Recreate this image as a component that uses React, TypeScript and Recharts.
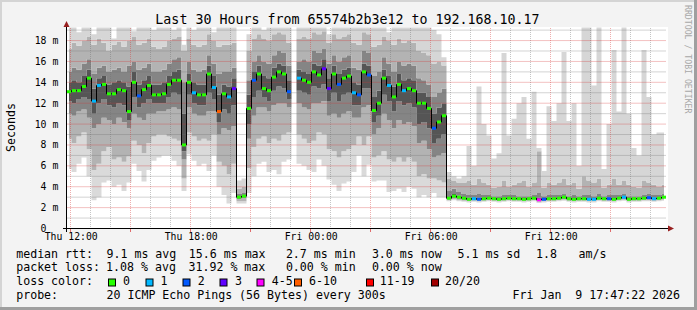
import React from 'react';
import { ComposedChart, Area, Line, XAxis, YAxis, ReferenceLine } from 'recharts';

// ---------- axis / layout constants ----------
const START_HOUR = 11.8; // Thu 11:48 (hours since Thu 00:00)
const SPAN_HOURS = 30;
const STEP_HOURS = 0.25;
const Y_MAX = 19.25;
const PLOT_W = 600;
const SAMPLE_PX = (PLOT_W / SPAN_HOURS) * STEP_HOURS;

const xTickHours = [12, 18, 24, 30, 36];
const xTickLabels = ['Thu 12:00', 'Thu 18:00', 'Fri 00:00', 'Fri 06:00', 'Fri 12:00'];
const yTicks = [0, 2, 4, 6, 8, 10, 12, 14, 16, 18];

// ---------- data (ms), one sample per 15 minutes ----------
const medianMs = [
  13.1, 13.2, 13.2, 13.6, 14.4, 12.2, 13.7, 13.8, 12.9, 12.9,
  13.3, 13.2, 11.2, 14.0, 12.7, 13.3, 13.7, 12.8, 12.8, 12.9,
  13.8, 14.2, 14.2, 8.0, 14.0, 13.0, 12.8, 12.8, 14.8, 13.5,
  11.2, 12.9, 12.6, 13.4, 3.0, 3.1, 11.5, 14.2, 14.8, 13.4,
  13.2, 14.5, 15.0, 14.8, 13.1, null, 14.4, 14.2, 14.0, 15.0,
  14.7, 15.3, 13.4, 14.8, 13.8, 14.4, 14.6, 13.0, 12.8, 15.0,
  14.7, 11.3, 12.0, 14.4, 13.7, 12.6, 13.8, 13.2, 13.4, 13.2,
  12.0, 12.0, 11.5, 9.6, 10.2, 10.8, 2.9, 3.1, 3.0, 2.9,
  2.8, 2.85, 2.8, 2.85, 2.9, 2.85, 2.8, 2.85, 2.9, 2.85,
  2.85, 2.8, 2.85, 2.9, 2.75, 2.8, 2.85, 2.85, 2.9, 3.0,
  2.85, 2.8, 2.85, 2.85, 2.8, 2.8, 2.9, 2.85, 2.85, 2.8,
  2.9, 3.0, 2.8, 2.85, 2.85, 2.9, 2.95, 2.85, 2.9, 3.0,
];

const lossCount = [
  0, 0, 0, 0, 0, 1, 1, 0, 0, 0,
  0, 0, 0, 0, 2, 0, 0, 0, 0, 0,
  0, 0, 0, 0, 0, 1, 0, 0, 0, 1,
  7, 0, 1, 3, 0, 0, 0, 2, 0, 0,
  0, 0, 0, 0, 2, 0, 1, 0, 0, 0,
  0, 3, 3, 0, 2, 0, 0, 1, 2, 0,
  2, 0, 0, 0, 1, 0, 0, 1, 0, 0,
  0, 0, 0, 2, 0, 0, 0, 0, 0, 0,
  0, 1, 2, 0, 0, 0, 0, 0, 0, 0,
  0, 0, 0, 0, 4, 2, 0, 0, 0, 0,
  0, 0, 0, 0, 1, 1, 0, 0, 2, 0,
  0, 1, 0, 0, 0, 0, 2, 1, 0, 0,
];

const smokeMin = [
  5.7, 5.4, 6.2, 6.8, 5.0, 2.7, 3.0, 4.4, 4.6, 4.0,
  4.2, 3.6, 4.4, 6.2, 5.5, 4.5, 5.6, 6.5, 6.8, 7.0,
  7.0, 6.5, 6.0, 3.6, 7.1, 6.5, 6.0, 6.2, 5.5, 7.0,
  4.0, 3.2, 2.4, 3.4, 2.4, 2.4, 3.4, 5.0, 6.2, 6.4,
  5.4, 5.6, 5.2, 6.4, 6.6, null, 6.2, 6.0, 5.6, 5.4,
  6.6, 6.0, 4.7, 4.2, 3.6, 4.3, 4.5, 5.4, 7.0, 5.0,
  6.1, 4.5, 4.6, 4.6, 3.5, 3.6, 3.8, 3.5, 4.0, 3.8,
  3.0, 3.2, 3.0, 3.4, 3.0, 3.0, 2.6, 2.7, 2.6, 2.55,
  2.5, 2.55, 2.5, 2.55, 2.6, 2.55, 2.5, 2.55, 2.6, 2.55,
  2.55, 2.5, 2.55, 2.6, 2.45, 2.5, 2.55, 2.55, 2.6, 2.65,
  2.55, 2.5, 2.55, 2.55, 2.5, 2.5, 2.6, 2.55, 2.55, 2.5,
  2.6, 2.65, 2.5, 2.55, 2.55, 2.6, 2.6, 2.55, 2.6, 2.65,
];

const smokeP10 = [
  8.6, 8.2, 8.8, 9.2, 7.6, 5.6, 6.2, 7.4, 7.8, 6.6,
  6.8, 6.4, 6.9, 8.4, 8.0, 7.2, 8.2, 8.8, 9.0, 9.0,
  8.8, 8.6, 8.4, 4.8, 9.2, 8.8, 8.4, 8.6, 8.4, 9.0,
  6.4, 6.0, 5.2, 6.2, 2.6, 2.6, 5.8, 7.8, 8.6, 8.8,
  8.2, 8.6, 8.4, 9.0, 9.2, null, 9.0, 8.6, 8.2, 8.4,
  9.2, 9.0, 7.6, 7.4, 6.8, 7.4, 7.6, 8.0, 8.8, 8.0,
  8.8, 6.8, 7.0, 7.4, 6.6, 6.4, 6.8, 6.4, 6.8, 6.4,
  5.0, 5.2, 4.8, 4.8, 4.6, 4.4, 2.7, 2.8, 2.7, 2.65,
  2.6, 2.65, 2.6, 2.65, 2.7, 2.65, 2.6, 2.65, 2.7, 2.65,
  2.65, 2.6, 2.65, 2.7, 2.55, 2.6, 2.65, 2.65, 2.7, 2.75,
  2.65, 2.6, 2.65, 2.65, 2.6, 2.6, 2.7, 2.65, 2.65, 2.6,
  2.7, 2.75, 2.6, 2.65, 2.65, 2.7, 2.7, 2.65, 2.7, 2.75,
];

const smokeP25 = [
  11.0, 10.8, 11.2, 11.4, 10.6, 9.6, 10.0, 10.6, 10.4, 10.0,
  10.6, 10.2, 9.6, 11.0, 10.6, 10.4, 11.0, 11.0, 11.2, 11.2,
  11.4, 11.6, 11.4, 6.6, 11.6, 11.0, 10.8, 10.8, 11.2, 11.2,
  9.0, 9.6, 9.4, 9.8, 2.8, 2.9, 8.6, 10.8, 11.6, 11.6,
  11.2, 11.8, 12.0, 12.0, 11.6, null, 12.0, 11.6, 11.4, 12.0,
  12.0, 12.2, 10.8, 11.0, 10.6, 11.0, 11.2, 10.6, 10.6, 11.6,
  11.8, 9.0, 9.6, 11.0, 10.4, 9.6, 10.4, 10.0, 10.2, 9.8,
  8.2, 8.4, 7.6, 6.8, 7.0, 7.2, 2.8, 2.95, 2.85, 2.75,
  2.7, 2.75, 2.7, 2.75, 2.8, 2.75, 2.7, 2.75, 2.8, 2.75,
  2.75, 2.7, 2.75, 2.8, 2.65, 2.7, 2.75, 2.75, 2.8, 2.85,
  2.75, 2.7, 2.75, 2.75, 2.7, 2.7, 2.8, 2.75, 2.75, 2.7,
  2.8, 2.85, 2.7, 2.75, 2.75, 2.8, 2.85, 2.75, 2.8, 2.85,
];

const smokeP40 = [
  12.2, 12.0, 12.4, 12.6, 12.4, 11.0, 12.0, 12.4, 11.8, 11.6,
  12.0, 11.8, 10.4, 12.6, 11.6, 12.0, 12.4, 12.0, 12.0, 12.0,
  12.6, 13.0, 12.8, 7.4, 12.8, 12.0, 11.8, 11.8, 13.0, 12.4,
  10.2, 11.4, 11.0, 11.8, 2.9, 3.0, 10.0, 12.6, 13.2, 12.6,
  12.2, 13.2, 13.6, 13.4, 12.4, null, 13.2, 13.0, 12.8, 13.6,
  13.4, 13.8, 12.2, 13.0, 12.2, 12.8, 13.0, 11.8, 11.8, 13.4,
  13.4, 10.2, 10.8, 12.8, 12.2, 11.2, 12.2, 11.8, 12.0, 11.6,
  10.0, 10.2, 9.6, 8.2, 8.6, 9.0, 2.85, 3.0, 2.95, 2.85,
  2.75, 2.8, 2.75, 2.8, 2.85, 2.8, 2.75, 2.8, 2.85, 2.8,
  2.8, 2.75, 2.8, 2.85, 2.7, 2.75, 2.8, 2.8, 2.85, 2.95,
  2.8, 2.75, 2.8, 2.8, 2.75, 2.75, 2.85, 2.8, 2.8, 2.75,
  2.85, 2.95, 2.75, 2.8, 2.8, 2.85, 2.9, 2.8, 2.85, 2.95,
];

const smokeP60 = [
  14.0, 14.2, 14.0, 14.6, 15.2, 13.4, 14.4, 14.6, 13.8, 14.0,
  14.2, 14.0, 13.6, 15.0, 13.8, 14.2, 14.6, 13.8, 13.8, 14.0,
  14.6, 15.0, 15.2, 11.0, 14.8, 14.0, 13.8, 13.8, 15.6, 14.6,
  12.8, 13.8, 13.6, 14.4, 3.1, 3.2, 12.8, 15.0, 15.6, 14.6,
  14.4, 15.4, 15.8, 15.6, 14.2, null, 15.2, 15.0, 14.8, 15.8,
  15.6, 16.2, 14.4, 15.6, 14.8, 15.2, 15.4, 14.0, 13.8, 15.8,
  15.6, 12.6, 13.2, 15.2, 14.6, 13.6, 14.8, 14.2, 14.4, 14.2,
  13.0, 13.0, 12.6, 11.0, 11.6, 12.0, 3.0, 3.3, 3.15, 3.0,
  2.95, 2.95, 2.95, 2.95, 3.0, 2.95, 2.9, 2.95, 3.0, 2.95,
  2.95, 2.9, 2.95, 3.0, 2.95, 2.9, 2.95, 2.95, 3.0, 3.1,
  2.95, 2.9, 2.95, 2.95, 2.9, 2.9, 3.0, 2.95, 2.95, 2.9,
  3.0, 3.1, 2.9, 2.95, 2.95, 3.0, 3.05, 2.95, 3.0, 3.1,
];

const smokeP75 = [
  15.0, 15.4, 15.2, 15.8, 16.2, 14.8, 15.4, 15.6, 15.0, 15.2,
  15.4, 15.0, 15.6, 16.0, 15.2, 15.4, 15.8, 15.0, 15.0, 15.2,
  15.8, 16.2, 16.4, 14.0, 16.0, 15.2, 15.0, 15.2, 16.6, 15.8,
  14.8, 15.0, 15.0, 15.4, 3.3, 3.4, 14.2, 16.0, 16.6, 16.0,
  15.8, 16.6, 17.0, 16.8, 15.6, null, 16.0, 16.2, 16.0, 17.0,
  16.8, 17.2, 15.8, 16.6, 16.0, 16.4, 16.6, 15.4, 15.2, 17.0,
  16.8, 14.6, 15.0, 16.4, 15.8, 15.0, 16.0, 15.6, 15.8, 15.6,
  14.4, 14.2, 13.8, 12.6, 13.0, 13.4, 3.6, 3.8, 3.5, 3.3,
  3.2, 3.2, 3.3, 3.2, 3.2, 3.1, 3.1, 3.2, 3.2, 3.2,
  3.1, 3.1, 3.1, 3.2, 3.4, 3.1, 3.2, 3.2, 3.2, 3.3,
  3.1, 3.2, 3.1, 3.2, 3.2, 3.1, 3.3, 3.1, 3.2, 3.2,
  3.2, 3.3, 3.1, 3.1, 3.1, 3.2, 3.3, 3.2, 3.2, 3.3,
];

const smokeP90 = [
  17.2, 17.8, 17.5, 18.0, 18.4, 17.6, 18.2, 17.8, 17.0, 17.6,
  17.9, 17.4, 18.0, 18.4, 17.6, 17.8, 18.2, 17.4, 17.2, 17.4,
  18.0, 18.2, 18.4, 17.0, 18.2, 17.6, 17.4, 17.6, 18.6, 18.0,
  17.4, 17.6, 17.6, 17.8, 3.8, 4.0, 17.0, 18.2, 18.6, 18.2,
  18.0, 18.6, 18.8, 18.6, 17.8, null, 18.2, 18.4, 18.2, 18.8,
  18.6, 18.9, 17.8, 18.6, 18.2, 18.4, 18.6, 17.8, 17.6, 18.8,
  18.6, 17.4, 17.6, 18.4, 18.0, 17.6, 18.2, 17.8, 18.0, 17.8,
  17.0, 16.8, 16.6, 15.8, 16.0, 15.6, 4.8, 4.6, 4.4, 4.4,
  4.6, 4.2, 4.8, 4.4, 4.2, 3.9, 4.0, 4.6, 4.0, 4.2,
  4.4, 4.6, 4.0, 4.4, 7.4, 3.9, 4.4, 4.2, 4.4, 4.8,
  4.2, 4.4, 3.8, 5.0, 4.6, 4.4, 4.8, 3.9, 4.2, 4.8,
  4.2, 4.6, 4.2, 4.0, 3.9, 4.6, 4.4, 4.2, 4.0, 4.2,
];

const smokeMax = [
  21, 21, 18.8, 21, 21, 18.6, 21, 21, 21, 18.2,
  21, 21, 21, 18.9, 21, 21, 21, 19.0, 21, 21,
  21, 19.0, 21, 17.6, 21, 19.0, 21, 21, 21, 18.8,
  21, 21, 21, 21, 4.6, 4.8, 18.6, 21, 21, 19.0,
  21, 21, 21, 21, 21, null, 21, 21, 21, 21,
  21, 21, 18.6, 21, 21, 21, 21, 21, 21, 21,
  21, 21, 21, 21, 18.8, 21, 21, 21, 21, 21,
  21, 21, 20, 19, 18.6, 16.4, 5.4, 5.0, 4.8, 5.0,
  7.9, 6.0, 13.6, 10.0, 8.9, 6.7, 7.2, 16.8, 8.9, 10.5,
  12.0, 12.6, 8.6, 13.1, 7.7, 5.5, 11.7, 10.3, 12.0, 16.9,
  10.3, 12.0, 6.0, 21, 21, 13.7, 21, 5.7, 10.0, 17.1,
  11.2, 21, 11.0, 7.7, 7.0, 17.1, 12.6, 9.0, 9.2, 9.2,
];

// ---------- legend ----------
const lossLevels = [0, 1, 2, 3, 4, 6, 11, 20];
const lossLabels = ['0', '1', '2', '3', '4-5', '6-10', '11-19', '20/20'];
const lossColors = ['#26ff00', '#00b8ff', '#0059ff', '#5e00ff', '#ff00ff', '#ff5e00', '#ff0000', '#a10000'];
const lossBoxX = [108, 145.5, 182.5, 219.5, 256.5, 294, 366, 431];
const lossLabelX = [123, 160.5, 197.8, 235, 271.8, 309, 379.7, 445];

const rttStats: [string, number][] = [
  ['median rtt:', 16.2], ['9.1 ms avg', 106.5], ['15.6 ms max', 188.8], ['2.7 ms min', 285.9],
  ['3.0 ms now', 371.9], ['5.1 ms sd', 457.5], ['1.8', 536.1], ['am/s', 578.6],
];
const lossStats: [string, number][] = [
  ['packet loss:', 16.2], ['1.08 % avg', 106.1], ['31.92 % max', 188.5], ['0.00 % min', 285.9], ['0.00 % now', 371.9],
];
const probeRow: [string, number][] = [
  ['probe:', 16.2], ['20 ICMP Echo Pings (56 Bytes) every 300s', 106.5], ['Fri Jan  9 17:47:22 2026', 512.5],
];

const TITLE = 'Last 30 Hours from 65574b2b3e12 to 192.168.10.17';

function lossColor(n: number) {
  let idx = 0;
  lossLevels.forEach((lv, i) => { if (n >= lv) idx = i; });
  return lossColors[idx];
}

const levels = [smokeMin, smokeP10, smokeP25, smokeP40, smokeP60, smokeP75, smokeP90, smokeMax];
const bandKeys = ['b1', 'b2', 'b3', 'b4', 'b5', 'b6', 'b7'];
const bandColors = ['#dadada', '#b3b3b3', '#858585', '#555555', '#858585', '#b3b3b3', '#d6d6d6'];

const data = medianMs.map((m, i) => {
  const gap = smokeMin[i] == null;
  const row: Record<string, number | null> = {
    t: START_HOUR + STEP_HOURS * (i + 0.5),
    base: gap ? 0 : (smokeMin[i] as number),
    median: m,
    loss: lossCount[i],
  };
  bandKeys.forEach((k, j) => {
    row[k] = gap ? 0 : (levels[j + 1][i] as number) - (levels[j][i] as number);
  });
  return row;
});

const minorHours: number[] = [];
const majorHours: number[] = [];
for (let h = 12; h <= 41; h++) (h % 3 === 0 ? majorHours : minorHours).push(h);
const minorMs: number[] = [];
const majorMs: number[] = [];
for (let v = 1; v <= 19; v++) (v % 2 === 0 ? majorMs : minorMs).push(v);

const MONO = '"DejaVu Sans Mono", monospace';
const MINOR_GRID = 'rgba(110,110,110,0.4)';
const MAJOR_GRID = 'rgba(215,50,50,0.4)';
const MINOR_GRID_H = 'rgba(110,110,110,0.6)';
const MAJOR_GRID_H = 'rgba(215,50,50,0.6)';

const XTick = (props: any) => {
  const { x, payload } = props;
  const idx = xTickHours.indexOf(payload.value);
  return (
    <text x={x + 0.7} y={240} textAnchor="middle" fontFamily={MONO} fontSize={9.8} fill="#000">
      {idx >= 0 ? xTickLabels[idx] : ''}
    </text>
  );
};

const YTick = (props: any) => {
  const { y, payload } = props;
  const v = payload.value;
  const label = v === 0 ? '0' : `${v} m`;
  const xEnd = v === 0 ? 46.5 : 58.3;
  return (
    <text x={xEnd} y={y + 3.5} textAnchor="end" fontFamily={MONO} fontSize={9.8} fill="#000">
      {label}
    </text>
  );
};

const MedianDot = (props: any) => {
  const { cx, cy, index, payload } = props;
  if (cx == null || cy == null || payload == null || payload.median == null) return <g key={`md${index}`} />;
  const w = SAMPLE_PX - 1;
  return <rect key={`md${index}`} x={cx - w / 2} y={cy - 1.5} width={w} height={3} fill={lossColor(payload.loss)} />;
};

export default function App() {
  return (
    <div style={{ position: 'fixed', left: 0, top: 0, width: 697, height: 310, background: '#f3f3f3', overflow: 'hidden' }}>
      <div style={{ position: 'absolute', left: 67, top: 27, width: 601, height: 202, background: '#ffffff' }} />
      <div style={{ position: 'absolute', left: 0, top: 0 }}>
        <ComposedChart width={697} height={310} data={data} margin={{ top: 27.5, right: 30.5, bottom: 0, left: 0 }}>
          <XAxis
            dataKey="t"
            type="number"
            domain={[START_HOUR, START_HOUR + SPAN_HOURS]}
            allowDataOverflow
            ticks={xTickHours}
            tick={<XTick />}
            tickLine={false}
            axisLine={false}
            height={81.5}
            interval={0}
          />
          <YAxis
            type="number"
            domain={[0, Y_MAX]}
            allowDataOverflow
            ticks={yTicks}
            tick={<YTick />}
            tickLine={false}
            axisLine={false}
            width={66.5}
            interval={0}
          />
          <Area dataKey="base" stackId="s" type="step" stroke="none" fill="none" isAnimationActive={false} />
          {bandKeys.map((k, j) => (
            <Area key={k} dataKey={k} stackId="s" type="step" stroke="none" fill={bandColors[j]} fillOpacity={1} isAnimationActive={false} />
          ))}
          {minorHours.map((h) => (
            <ReferenceLine key={`vh${h}`} x={h} stroke={MINOR_GRID} strokeDasharray="1 1" shapeRendering="crispEdges" zIndex={150} />
          ))}
          {minorMs.map((v) => (
            <ReferenceLine key={`hm${v}`} y={v} stroke={MINOR_GRID_H} strokeDasharray="1 1" zIndex={150} />
          ))}
          {majorHours.map((h) => (
            <ReferenceLine key={`vM${h}`} x={h} stroke={MAJOR_GRID} strokeDasharray="1 1" shapeRendering="crispEdges" zIndex={151} />
          ))}
          {majorMs.map((v) => (
            <ReferenceLine key={`hM${v}`} y={v} stroke={MAJOR_GRID_H} strokeDasharray="1 1" zIndex={151} />
          ))}
          {majorHours.map((h) => (
            <ReferenceLine key={`tM${h}`} segment={[{ x: h, y: -0.3 }, { x: h, y: 0 }]} ifOverflow="visible" stroke="rgba(215,50,50,0.7)" shapeRendering="crispEdges" zIndex={152} />
          ))}
          <Line
            dataKey="median"
            type="step"
            stroke="#000"
            strokeWidth={1}
            dot={MedianDot}
            activeDot={false}
            connectNulls={false}
            isAnimationActive={false}
          />
        </ComposedChart>
      </div>
      <svg width={697} height={310} style={{ position: 'absolute', left: 0, top: 0, pointerEvents: 'none' }}>
        {/* frame */}
        <rect x={0} y={0} width={697} height={2} fill="#d4d4d4" />
        <rect x={0} y={0} width={2} height={310} fill="#d4d4d4" />
        <rect x={0} y={307} width={697} height={3} fill="#9f9f9f" />
        <rect x={694} y={0} width={3} height={310} fill="#9f9f9f" />
        {/* axes */}
        <line x1={66.5} y1={24} x2={66.5} y2={232} stroke="#000" strokeWidth={1} />
        <line x1={63} y1={228.5} x2={670} y2={228.5} stroke="#000" strokeWidth={1} />
        <polygon points="63.5,27 69.5,27 66.5,21" fill="#982020" />
        <polygon points="668,225.5 668,231.5 674,228.5" fill="#982020" />
        {/* title */}
        <text x={347.5} y={24} textAnchor="middle" fontFamily={MONO} fontSize={13.3} fill="#000">{TITLE}</text>
        {/* y label */}
        <text x={15.3} y={127.5} textAnchor="middle" fontFamily={MONO} fontSize={11.6} fill="#000" transform="rotate(-90 15.3 127.5)">Seconds</text>
        {/* watermark */}
        <text x={685} y={5} textAnchor="start" fontFamily={MONO} fontSize={8.2} fill="#a8a8a8" transform="rotate(90 685 5)">RRDTOOL / TOBI OETIKER</text>
        {/* legend */}
        {rttStats.map(([s, x], i) => (
          <text key={`r${i}`} x={x} y={257.5} fontFamily={MONO} fontSize={11.6} fill="#000" style={{ whiteSpace: 'pre' }}>{s}</text>
        ))}
        {lossStats.map(([s, x], i) => (
          <text key={`l${i}`} x={x} y={271.3} fontFamily={MONO} fontSize={11.6} fill="#000" style={{ whiteSpace: 'pre' }}>{s}</text>
        ))}
        <text x={16.2} y={285} fontFamily={MONO} fontSize={11.6} fill="#000">loss color:</text>
        {lossLabels.map((lab, i) => (
          <g key={`lc${i}`}>
            <rect x={lossBoxX[i] + 0.5} y={279} width={7} height={7} fill={lossColors[i]} stroke="#000" strokeWidth={1} />
            <text x={lossLabelX[i]} y={285} fontFamily={MONO} fontSize={11.6} fill="#000">{lab}</text>
          </g>
        ))}
        {probeRow.map(([s, x], i) => (
          <text key={`p${i}`} x={x} y={298.8} fontFamily={MONO} fontSize={11.6} fill="#000" style={{ whiteSpace: 'pre' }}>{s}</text>
        ))}
      </svg>
    </div>
  );
}
